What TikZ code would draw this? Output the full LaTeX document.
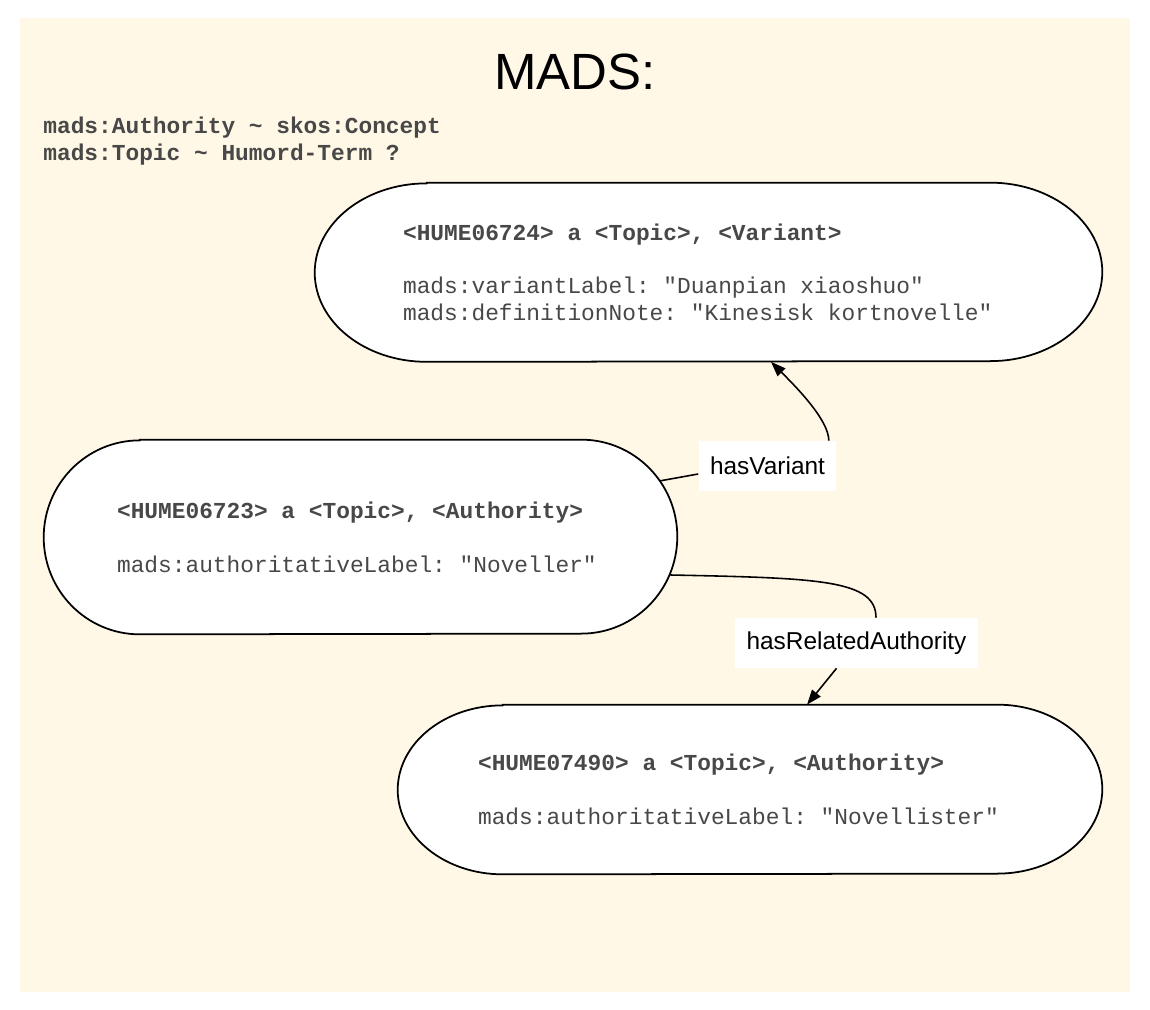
\documentclass[tikz,border=0pt]{standalone}
\usepackage{fontspec}
\setmainfont{Liberation Sans}
\newfontfamily\termfont{Liberation Mono}[WordSpace={1,0,0}]
\usetikzlibrary{calc,arrows.meta}
\definecolor{madsbg}{RGB}{255,248,230}
\definecolor{termtext}{RGB}{72,72,72}
\pgfdeclarelayer{back}
\pgfdeclarelayer{shape}
\pgfsetlayers{back,shape,main}
\frenchspacing
\def\stadium(#1)(#2:#3){\draw[line width=1pt,fill=white] ($(#1.north west)+(#2,0)$) -- ($(#1.north east)+(-#2,0)$) arc (90:-90:#2 and #3) -- ($(#1.south west)+(#2,0)$) arc (270:90:#2 and #3) -- cycle;}

\begin{document}
\begin{tikzpicture}[x=0.02cm,y=-0.02cm,
	term/.style={rectangle,align=flush left,text=termtext,font=\termfont\fontsize{13}{15.3}\selectfont},
	rel/.style={fill=white,inner xsep=0.23cm,minimum height=1cm,font=\fontsize{13.9}{16}\selectfont},
	link/.style={line width=0.9pt},
	tip/.style={-{Triangle[length=8.5pt,width=6.2pt]}}]
			%%%%% START %%%%%
			\useasboundingbox (0,0) rectangle (1150,1010);
			\begin{pgfonlayer}{back}
			\fill[white] (0,0) rectangle (1150,1010);
			\fill[madsbg] (20,18) rectangle (1130,992);
			\end{pgfonlayer}
			
			\node[font=\fontsize{29}{34}\selectfont] (title) at (575,71.5) {MADS:};
			\node[term,anchor=north west,inner sep=0pt,font=\termfont\bfseries\fontsize{13}{15.3}\selectfont] (notes) at (43,117) {mads:Authority \textasciitilde{} skos:Concept\\mads:Topic \textasciitilde{} Humord-Term ?};
			
			\node[term,text width=12.22cm,inner xsep=1.76cm,minimum height=3.57cm] (variant) at (708.5,272.25) {\textbf{<HUME06724> a <Topic>, <Variant>}\\[15.3pt]mads:variantLabel: "Duanpian xiaoshuo"\\mads:definitionNote: "Kinesisk kortnovelle"};
			\node[term,text width=9.74cm,inner xsep=1.46cm,minimum height=3.88cm] (noveller) at (360.5,537) {\textbf{<HUME06723> a <Topic>, <Authority>}\\[15.3pt]mads:authoritativeLabel: "Noveller"};
			\node[term,text width=10.88cm,inner xsep=1.6cm,minimum height=3.38cm] (novellister) at (750,789.5) {\textbf{<HUME07490> a <Topic>, <Authority>}\\[15.3pt]mads:authoritativeLabel: "Novellister"};
			
			\begin{pgfonlayer}{shape}
			\stadium(variant)(2.24cm:1.785cm)
			\stadium(noveller)(1.92cm:1.94cm)
			\stadium(novellister)(2.1cm:1.69cm)
			\end{pgfonlayer}
			
			\node[rel] (hasvariant) at (767.5,466) {hasVariant};
			\node[rel] (hasrelated) at (856.5,643) {hasRelatedAuthority};
			
			\draw[link] ($(noveller.east)+(-18,-56)$) -- ($(hasvariant.west)+(0,8)$);
			\draw[link,tip] ($(hasvariant.north east)+(-8,0)$) .. controls +(0,-21) and +(24,24) .. ($(variant.south)+(62.5,0)$);
			
			\draw[link] ($(noveller.east)+(-7,38)$) .. controls (820,578) and (876,580) .. ($(hasrelated.north)+(19.5,0)$);
			\draw[link,tip] ($(hasrelated.south)+(-20,0)$) -- ($(novellister.north)+(57,0)$);
			%%%%% END %%%%%
\end{tikzpicture}
\end{document}
